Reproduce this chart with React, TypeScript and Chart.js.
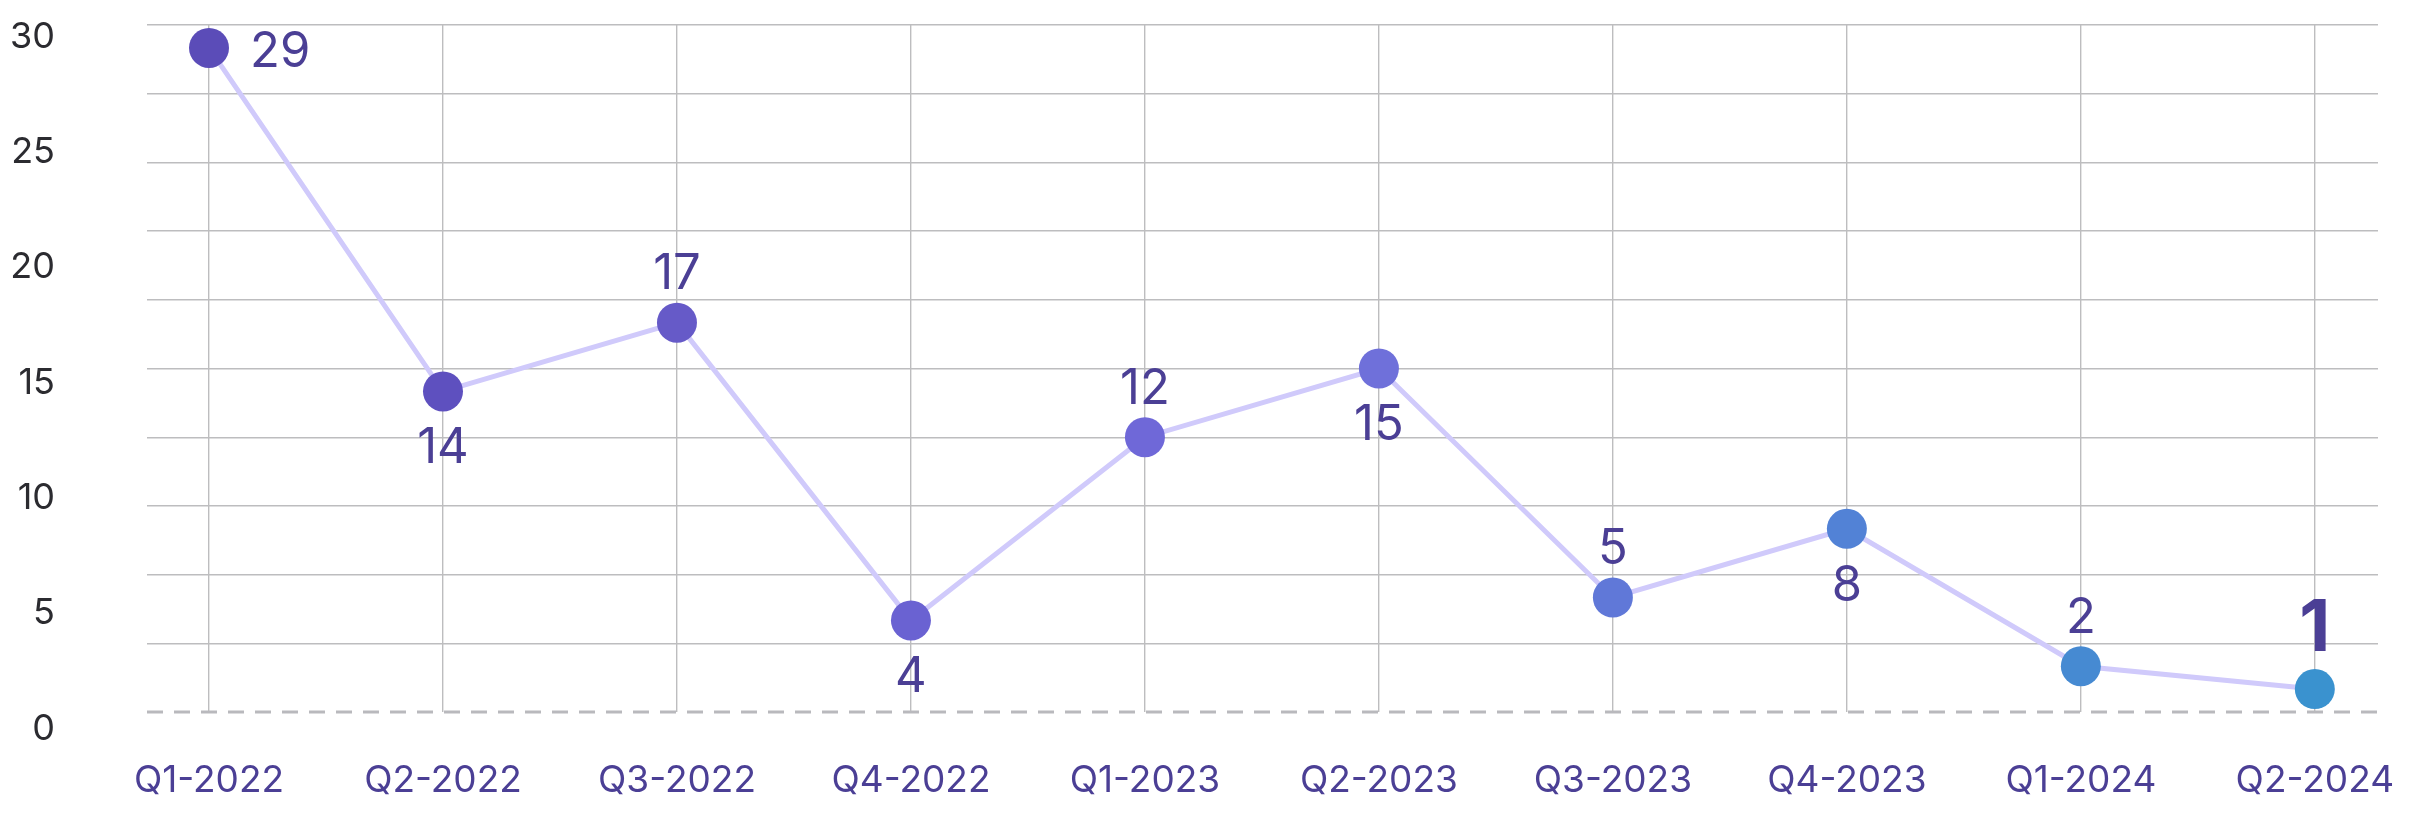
import React, { useEffect, useRef } from "react";
import { Chart, registerables } from "chart.js";

Chart.register(...registerables);

const categories = [
  "Q1-2022", "Q2-2022", "Q3-2022", "Q4-2022", "Q1-2023",
  "Q2-2023", "Q3-2023", "Q4-2023", "Q1-2024", "Q2-2024",
];
const values = [29, 14, 17, 4, 12, 15, 5, 8, 2, 1];
const yTickLabels = [0, 5, 10, 15, 20, 25, 30];
// label placement per point: "right" | "above" | "below"
const labelPlacement = ["right", "below", "above", "below", "above", "below", "above", "below", "above", "above"];

const pointColors = [
  "#5b4cb8", "#5e50bf", "#665ac8", "#6a62d2", "#6f68d8",
  "#6f70da", "#6078d8", "#5282d6", "#468ad2", "#3a92cf",
];

const LABEL_COLOR = "#4b3f95";
const GRID_COLOR = "#bdbdbf";

const pointLabelsPlugin = {
  id: "pointLabels",
  beforeDatasetsDraw(chart: any) {
    const { ctx, chartArea, scales } = chart;
    const y0 = scales.y.getPixelForValue(0);
    ctx.save();
    ctx.strokeStyle = "#b9b9bd";
    ctx.lineWidth = 3;
    ctx.setLineDash([16, 11]);
    ctx.beginPath();
    ctx.moveTo(chartArea.left, y0);
    ctx.lineTo(chartArea.right, y0);
    ctx.stroke();
    ctx.restore();
  },
  afterDatasetsDraw(chart: any) {
    const { ctx } = chart;
    const meta = chart.getDatasetMeta(0);
    ctx.save();
    ctx.fillStyle = LABEL_COLOR;
    meta.data.forEach((el: any, i: number) => {
      const last = i === values.length - 1;
      ctx.font = last ? "bold 72px Inter" : "49px Inter";
      const place = labelPlacement[i];
      let x = el.x;
      let y = el.y;
      ctx.textBaseline = "middle";
      if (place === "right") {
        ctx.textAlign = "left";
        x = el.x + 41;
        y = el.y + 4;
      } else if (place === "above") {
        ctx.textAlign = "center";
        y = el.y - (last ? 60 : 48);
      } else {
        ctx.textAlign = "center";
        y = el.y + 57;
      }
      ctx.fillText(String(values[i]), x, y);
    });
    ctx.restore();
  },
};

export default function App() {
  const ref = useRef<HTMLCanvasElement | null>(null);

  useEffect(() => {
    if (!ref.current) return;
    Chart.defaults.font.family = "Inter";
    const chart = new Chart(ref.current, {
      type: "line",
      data: {
        datasets: [
          {
            data: values.map((v, i) => ({ x: i, y: v })),
            borderColor: "#d0cafb",
            borderWidth: 5,
            pointRadius: 20,
            pointHoverRadius: 20,
            pointBackgroundColor: pointColors,
            pointBorderWidth: 0,
            tension: 0,
            fill: false,
          },
        ],
      },
      options: {
        animation: false,
        responsive: true,
        maintainAspectRatio: false,
        layout: { padding: { top: 25, right: 31, left: 0, bottom: 0 } },
        plugins: {
          legend: { display: false },
          tooltip: { enabled: false },
        },
        scales: {
          x: {
            type: "linear",
            min: -0.265,
            max: 9.27,
            afterBuildTicks: (s: any) => {
              s.ticks = categories.map((_, i) => ({ value: i }));
            },
            afterFit: (s: any) => {
              s.height = 103;
              s.paddingLeft = 0;
              s.paddingRight = 0;
              s.paddingTop = 0;
              s.paddingBottom = 0;
            },
            ticks: {
              color: LABEL_COLOR,
              font: { size: 37, family: "Inter" },
              padding: 47,
              maxRotation: 0,
              autoSkip: false,
              callback: (v: any) => categories[v as number] ?? "",
            },
            grid: { color: GRID_COLOR, lineWidth: 1.4, drawTicks: false },
            border: { display: false },
          },
          y: {
            position: "left",
            min: 0,
            max: 30,
            ticks: { display: false, stepSize: 3 },
            afterFit: (s: any) => {
              s.width = 0;
              s.paddingTop = 0;
              s.paddingBottom = 0;
            },
            grid: {
              drawTicks: false,
              lineWidth: 1.4,
              color: (c: any) => (c.tick && c.tick.value === 0 ? "rgba(0,0,0,0)" : GRID_COLOR),
            },
            border: { display: false },
          },
          y2: {
            position: "left",
            min: 0.737,
            max: 30.52,
            afterBuildTicks: (s: any) => {
              s.ticks = yTickLabels.map((v) => ({ value: v }));
            },
            afterFit: (s: any) => {
              s.width = 147;
              s.paddingTop = 0;
              s.paddingBottom = 0;
            },
            ticks: {
              color: "#2b2b30",
              font: { size: 36, family: "Inter" },
              padding: 92,
              callback: (v: any) => String(v),
            },
            grid: { display: false, drawTicks: false },
            border: { display: false },
          },
        },
      },
      plugins: [pointLabelsPlugin],
    });
    return () => chart.destroy();
  }, []);

  return (
    <div style={{ position: "fixed", left: 0, top: 0, width: 2409, height: 815 }}>
      <canvas ref={ref} />
    </div>
  );
}
